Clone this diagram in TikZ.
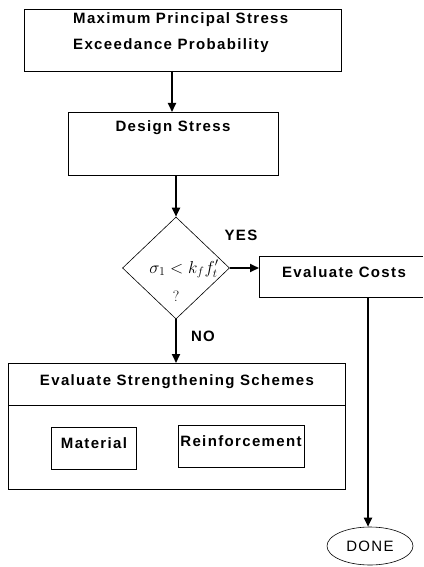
\documentclass[tikz,border=0pt]{standalone}
\usepackage{fontspec}
\setsansfont{Liberation Sans}[LetterSpace=9]
\usetikzlibrary{shapes.geometric,arrows.meta}
\begin{document}
\begin{tikzpicture}[x=1pt,y=-1pt,
  box/.style={draw,line width=0.7pt},
  lbl/.style={font=\sffamily\bfseries\fontsize{15}{18}\selectfont,inner sep=0pt},
  flow/.style={line width=1.8pt,-{Triangle[length=9pt,width=8pt]}}]
\useasboundingbox (0,0) rectangle (423,567);
% box 1
\draw[box] (24,9) rectangle (341,71);
\node[lbl,anchor=west] (t1) at (73,20) {Maximum Principal Stress};
\node[lbl,anchor=west] (t2) at (73,46) {Exceedance Probability};
\coordinate (b1) at (172,71);
% box 2
\draw[box] (68,112) rectangle (278,175);
\node[lbl] (ds) at (173,128) {Design Stress};
\coordinate (b2t) at (172,112);
\coordinate (b2b) at (176,175);
% diamond
\node[draw,diamond,line width=0.6pt,minimum width=107pt,minimum height=102pt,inner sep=0pt] (dec) at (176,268) {};
\node[inner sep=0pt] (cond) at (184,269) {\fontsize{17}{20}\selectfont$\sigma_1 < k_f f_t^{\prime}$};
\node[inner sep=0pt] (q) at (176,296) {\fontsize{15}{18}\selectfont ?};
\node[lbl] (yes) at (241,235) {YES};
\node[lbl] (no) at (203,336) {NO};
% evaluate costs
\draw[box] (259,256) -- (423,256);
\draw[box] (259,256) -- (259,297) -- (423,297);
\node[lbl] (ec) at (344,272) {Evaluate Costs};
\coordinate (ecl) at (259,268);
\coordinate (ecb) at (368,297);
% done
\node[draw,ellipse,line width=0.6pt,minimum width=86pt,minimum height=38pt,inner sep=0pt,font=\sffamily\fontsize{15}{18}\selectfont] (done) at (370,546) {DONE};
% big box
\draw[box] (8,363) rectangle (345,489);
\draw[box] (8,405) -- (345,405);
\node[lbl] (ess) at (177,382) {Evaluate Strengthening Schemes};
\coordinate (bbt) at (176,363);
\draw[box] (51,427) rectangle (136,469);
\node[lbl] (mat) at (94,443) {Material};
\draw[box] (178,425) rectangle (304,467);
\node[lbl] (rei) at (241,441) {Reinforcement};
% arrows
\draw[flow] (b1) -- (b2t);
\draw[flow] (b2b) -- (dec.north);
\draw[flow] (dec.east) -- (ecl);
\draw[flow] (dec.south) -- (bbt);
\draw[flow] (ecb) -- (ecb |- done.north);
\end{tikzpicture}
\end{document}
